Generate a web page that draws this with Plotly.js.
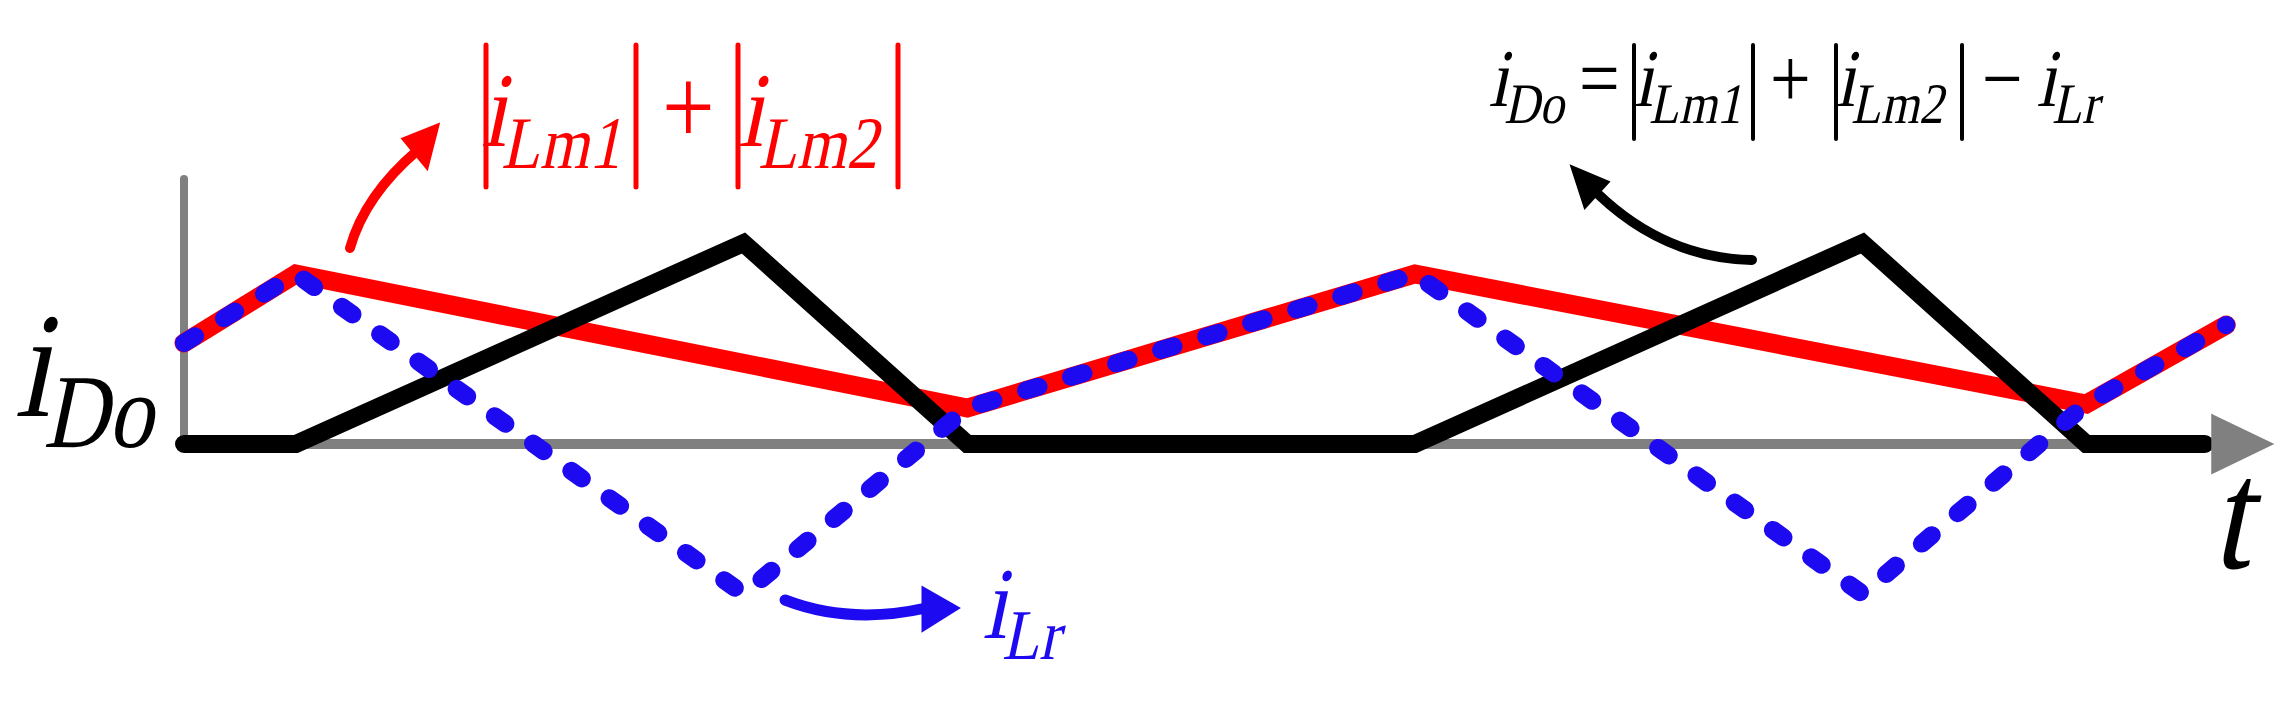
<!DOCTYPE html>
<html><head><meta charset="utf-8">
<script src="https://cdn.plot.ly/plotly-3.0.1.min.js"></script>
<style>
html,body{margin:0;padding:0;background:#fff;overflow:hidden;}
#chart{width:2291px;height:701px;}
.scatterlayer path.js-line{stroke-linecap:round;}
.shapelayer path{stroke-linecap:round;}
.annotation-text{transform-box:fill-box;transform-origin:50% 50%;transform:scaleX(0.85);}
</style></head><body><div id="chart"></div>
<script>
const W = 2291, H = 701;

// time axis (arbitrary units) and current waveforms
const tLmSum = [0, 1, 7, 11, 17, 18.25];
const iLmSum = [10.1, 17, 3.6, 17, 4.0, 11.9];          // |iLm1| + |iLm2|
const tLr = [0, 1, 5, 7, 11, 15, 17, 18.25];
const iLr = [10.1, 17, -15, 3.6, 17, -15, 4.0, 11.9];     // iLr
const tDo = [0, 1, 5, 7, 11, 15, 17, 18.06];
const iDo = [0, 0, 20.1, 0, 0, 20.1, 0, 0];               // iDo

const RED = '#ff0000', BLUE = '#1e0af0', BLACK = '#000000', GRAY = '#808080';
const FONT = 'Liberation Serif';

const px = x => x / W;
const py = y => 1 - y / H;
const P = (x, y) => px(x).toFixed(5) + ',' + py(y).toFixed(5);

// plain text: main baseline at `base`, anchored by the top of the font box
function txt(text, cx, base, size, color) {
  return {xref: 'paper', yref: 'paper', x: px(cx), y: py(base - 0.891 * size),
          xanchor: 'center', yanchor: 'top', text: text, showarrow: false,
          borderpad: 0, font: {family: FONT, size: size, color: color}};
}
// text with a subscript: anchored by the bottom of the subscript box
function sub(text, cx, base, size, color) {
  return {xref: 'paper', yref: 'paper', x: px(cx), y: py(base + 0.361 * size),
          xanchor: 'center', yanchor: 'bottom', text: text, showarrow: false,
          borderpad: 0, font: {family: FONT, size: size, color: color}};
}
function bar(x, y0, y1, color, w) {
  return {type: 'line', xref: 'paper', yref: 'paper', x0: px(x), x1: px(x),
          y0: py(y0), y1: py(y1), line: {color: color, width: w}};
}

const traces = [
  {x: tLmSum, y: iLmSum, mode: 'lines', line: {color: RED, width: 19}, hoverinfo: 'skip'},
  {x: tDo, y: iDo, mode: 'lines', line: {color: BLACK, width: 18}, hoverinfo: 'skip'},
  {x: tLr, y: iLr, mode: 'lines', line: {color: BLUE, width: 18, dash: '13px,34px'}, hoverinfo: 'skip'}
];

const shapes = [
  {type: 'line', xref: 'x', yref: 'y', x0: 0, x1: 0, y0: 0, y1: 26.5, line: {color: GRAY, width: 8}, layer: 'below'},
  {type: 'line', xref: 'x', yref: 'y', x0: 0, x1: 18.13, y0: 0, y1: 0, line: {color: GRAY, width: 10}, layer: 'below'},
  {type: 'path', xref: 'x', yref: 'y', path: 'M 18.13 2.8 L 18.65 0 L 18.13 -2.8 Z', fillcolor: GRAY, line: {color: GRAY, width: 3}},
  {type: 'path', xref: 'paper', yref: 'paper', path: 'M ' + P(350, 248) + ' Q ' + P(365, 195) + ' ' + P(418, 150), line: {color: RED, width: 10}},
  {type: 'path', xref: 'paper', yref: 'paper', path: 'M ' + P(438, 125) + ' L ' + P(403, 139) + ' L ' + P(427, 168) + ' Z', fillcolor: RED, line: {color: RED, width: 3}},
  {type: 'path', xref: 'paper', yref: 'paper', path: 'M ' + P(785, 600) + ' Q ' + P(850, 625) + ' ' + P(926, 608), line: {color: BLUE, width: 11}},
  {type: 'path', xref: 'paper', yref: 'paper', path: 'M ' + P(958, 608) + ' L ' + P(923, 588) + ' L ' + P(923, 630) + ' Z', fillcolor: BLUE, line: {color: BLUE, width: 3}},
  {type: 'path', xref: 'paper', yref: 'paper', path: 'M ' + P(1752, 260) + ' Q ' + P(1665, 258) + ' ' + P(1598, 194), line: {color: BLACK, width: 10}},
  {type: 'path', xref: 'paper', yref: 'paper', path: 'M ' + P(1572, 167) + ' L ' + P(1585, 207) + ' L ' + P(1608, 182) + ' Z', fillcolor: BLACK, line: {color: BLACK, width: 3}},
  bar(486, 45, 187, RED, 5), bar(636, 45, 187, RED, 5), bar(738, 45, 187, RED, 5), bar(898, 45, 187, RED, 5),
  bar(1634, 45, 139, BLACK, 4), bar(1753, 45, 139, BLACK, 4), bar(1836, 45, 139, BLACK, 4), bar(1962, 45, 139, BLACK, 4)
];

const annotations = [
  // |iLm1| + |iLm2|
  sub('i<sub>Lm1</sub>', 559, 147, 106, RED),
  txt('+', 688, 143, 110, RED),
  sub('i<sub>Lm2</sub>', 816, 147, 106, RED),
  // iDo = |iLm1| + |iLm2| - iLr
  sub('i<sub>Do</sub>', 1532, 107, 82, BLACK),
  txt('=', 1599, 107, 85, BLACK),
  sub('i<sub>Lm1</sub>', 1693, 107, 82, BLACK),
  txt('+', 1790, 107, 85, BLACK),
  sub('i<sub>Lm2</sub>', 1895, 107, 82, BLACK),
  txt('\u2212', 2002, 107, 85, BLACK),
  sub('i<sub>Lr</sub>', 2074, 107, 82, BLACK),
  // axis labels
  sub('i<sub>Do</sub>', 95, 417, 150, BLACK),
  txt('t', 2241, 567, 158, BLACK),
  // iLr label
  sub('i<sub>Lr</sub>', 1028, 638, 102, BLUE)
];

const layout = {
  width: W, height: H, autosize: false,
  margin: {l: 0, r: 0, t: 0, b: 0, pad: 0},
  paper_bgcolor: '#ffffff', plot_bgcolor: '#ffffff',
  showlegend: false,
  xaxis: {range: [-184 / 111.9, (W - 184) / 111.9], visible: false, fixedrange: true},
  yaxis: {range: [(444 - H) / 10, 444 / 10], visible: false, fixedrange: true},
  shapes: shapes,
  annotations: annotations
};

function slantText() {
  document.querySelectorAll('.annotation-text').forEach(function (el) {
    var s = (el.getAttribute('data-unformatted') || el.textContent || '').trim();
    var upright = /^[+=\u2212]$/.test(s);
    el.style.transformBox = 'fill-box';
    el.style.transformOrigin = '50% 50%';
    el.style.transform = upright ? 'scaleX(0.85)' : 'scaleX(0.85) skewX(-14deg)';
  });
}

Plotly.newPlot('chart', traces, layout, {displayModeBar: false, staticPlot: true}).then(slantText);
</script></body></html>
